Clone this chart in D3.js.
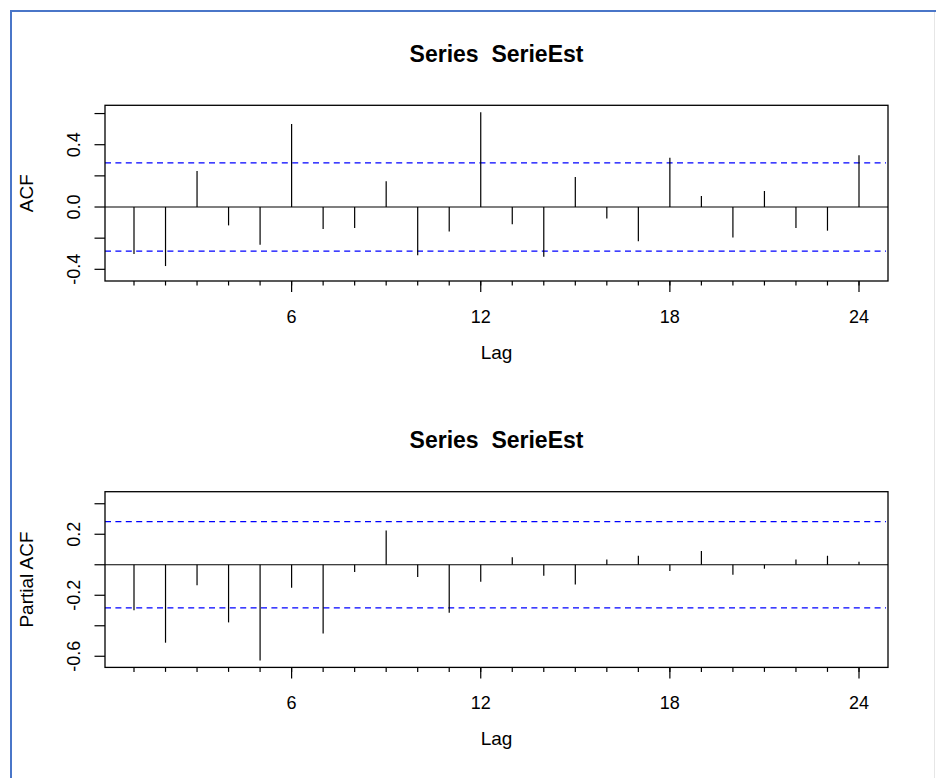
<!DOCTYPE html>
<html>
<head>
<meta charset="utf-8">
<script src="https://cdn.jsdelivr.net/npm/d3@7"></script>
<style>
  html, body { margin: 0; padding: 0; background: #ffffff; }
  svg { display: block; }
  text { font-family: "Liberation Sans", Arial, sans-serif; fill: #000; white-space: pre; }
</style>
</head>
<body>
<svg id="chart" width="936" height="778"></svg>
<script>
// ---- data ----
const lags = d3.range(1, 25);
const acfValues = [-0.302, -0.379, 0.231, -0.118, -0.242, 0.533, -0.141, -0.135, 0.165, -0.310, -0.158, 0.608,
                   -0.111, -0.319, 0.193, -0.073, -0.220, 0.317, 0.071, -0.195, 0.103, -0.135, -0.152, 0.332];
const pacfValues = [-0.299, -0.511, -0.135, -0.378, -0.627, -0.151, -0.450, -0.048, 0.225, -0.081, -0.315, -0.111,
                    0.050, -0.072, -0.129, 0.035, 0.059, -0.041, 0.090, -0.066, -0.026, 0.035, 0.059, 0.020];
const ciLimit = 0.283;
const xMajorTicks = [6, 12, 18, 24];
const acfYTicks = [-0.4, -0.2, 0.0, 0.2, 0.4, 0.6];
const acfYLabels = [-0.4, 0.0, 0.4];
const pacfYTicks = [-0.6, -0.4, -0.2, 0.0, 0.2, 0.4];
const pacfYLabels = [-0.6, -0.2, 0.2];
const titleText = "Series  SerieEst";

const svg = d3.select("#chart");

// frame of the pasted picture
svg.append("line").attr("x1", 11).attr("x2", 936).attr("y1", 11).attr("y2", 11)
  .attr("stroke", "#4a76c8").attr("stroke-width", 2);
svg.append("line").attr("x1", 11).attr("x2", 11).attr("y1", 10).attr("y2", 778)
  .attr("stroke", "#4a76c8").attr("stroke-width", 2);
svg.append("line").attr("x1", 934.5).attr("x2", 934.5).attr("y1", 12).attr("y2", 778)
  .attr("stroke", "#e6e6e6").attr("stroke-width", 1);

const plotLeft = 105, plotRight = 888;
const span = lags[lags.length - 1] - lags[0];
const x = d3.scaleLinear()
  .domain([lags[0] - 0.04 * span, lags[lags.length - 1] + 0.04 * span])
  .range([plotLeft, plotRight]);

function panel(offsetY, values, yDomain, yTicks, yLabels, yTitle) {
  const top = 105.3 + offsetY, bottom = 281 + offsetY;
  const y = d3.scaleLinear().domain(yDomain).range([bottom, top]);
  const g = svg.append("g");

  // title
  g.append("text").attr("x", (plotLeft + plotRight) / 2).attr("y", 61.7 + offsetY)
    .attr("xml:space", "preserve")
    .attr("text-anchor", "middle").style("font-size", "23px").style("font-weight", "bold")
    .text(titleText);

  // CI lines
  [ciLimit, -ciLimit].forEach(c => {
    g.append("line").attr("x1", plotLeft).attr("x2", plotRight - 2)
      .attr("y1", y(c)).attr("y2", y(c))
      .attr("stroke", "#0000ff").attr("stroke-width", 1.3)
      .attr("stroke-dasharray", "6,4.4");
  });

  // zero line
  g.append("line").attr("x1", plotLeft).attr("x2", plotRight)
    .attr("y1", y(0)).attr("y2", y(0)).attr("stroke", "#000").attr("stroke-width", 1.2);

  // spikes
  g.selectAll("line.spike").data(lags).enter().append("line")
    .attr("class", "spike")
    .attr("x1", d => x(d)).attr("x2", d => x(d))
    .attr("y1", y(0)).attr("y2", (d, i) => y(values[i]))
    .attr("stroke", "#000").attr("stroke-width", 1.2);

  // box
  g.append("rect").attr("x", plotLeft).attr("y", top)
    .attr("width", plotRight - plotLeft).attr("height", bottom - top)
    .attr("fill", "none").attr("stroke", "#000").attr("stroke-width", 1.3);

  // y axis ticks
  g.selectAll("line.ytick").data(yTicks).enter().append("line")
    .attr("x1", plotLeft - 10.5).attr("x2", plotLeft)
    .attr("y1", d => y(d)).attr("y2", d => y(d))
    .attr("stroke", "#000").attr("stroke-width", 1.2);
  g.selectAll("text.ylab").data(yLabels).enter().append("text")
    .attr("transform", d => `translate(80,${y(d)}) rotate(-90)`)
    .attr("text-anchor", "middle").style("font-size", "18px")
    .text(d => d3.format(".1f")(d).replace("−", "-"));

  // x axis ticks
  g.selectAll("line.xminor").data(lags).enter().append("line")
    .attr("x1", d => x(d)).attr("x2", d => x(d))
    .attr("y1", bottom).attr("y2", bottom + 4.5)
    .attr("stroke", "#000").attr("stroke-width", 1.2);
  g.selectAll("line.xmajor").data(xMajorTicks).enter().append("line")
    .attr("x1", d => x(d)).attr("x2", d => x(d))
    .attr("y1", bottom).attr("y2", bottom + 11)
    .attr("stroke", "#000").attr("stroke-width", 1.2);
  g.selectAll("text.xlab").data(xMajorTicks).enter().append("text")
    .attr("x", d => x(d)).attr("y", 323 + offsetY)
    .attr("text-anchor", "middle").style("font-size", "18px")
    .text(d => d);

  // axis titles
  g.append("text").attr("x", (plotLeft + plotRight) / 2).attr("y", 358.5 + offsetY)
    .attr("text-anchor", "middle").style("font-size", "19px").text("Lag");
  g.append("text")
    .attr("transform", `translate(33.3,${(top + bottom) / 2}) rotate(-90)`)
    .attr("text-anchor", "middle").style("font-size", "19px").text(yTitle);
}

panel(0, acfValues, [-0.475, 0.653], acfYTicks, acfYLabels, "ACF");
panel(386.4, pacfValues, [-0.673, 0.479], pacfYTicks, pacfYLabels, "Partial ACF");
</script>
</body>
</html>
